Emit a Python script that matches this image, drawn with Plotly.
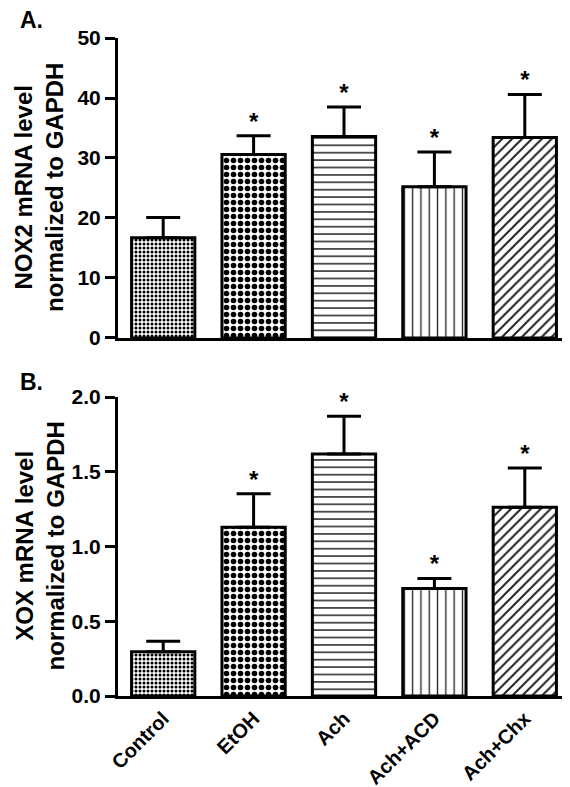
import plotly.graph_objects as go
from plotly.subplots import make_subplots

categories = ["Control", "EtOH", "Ach", "Ach+ACD", "Ach+Chx"]
nox2_mean = [16.7, 30.6, 33.6, 25.2, 33.4]
nox2_sem = [3.4, 3.1, 4.9, 5.8, 7.2]
xox_mean = [0.296, 1.129, 1.619, 0.719, 1.263]
xox_sem = [0.071, 0.223, 0.252, 0.067, 0.262]
significant = [False, True, True, True, True]
nox2_ticks = [0, 10, 20, 30, 40, 50]
xox_ticks = [0.0, 0.5, 1.0, 1.5, 2.0]
xox_ticklabels = ["0.0", "0.5", "1.0", "1.5", "2.0"]
panel_letters = ["A.", "B."]
y_titles = ["NOX2 mRNA level<br>normalized to GAPDH", "XOX mRNA level<br>normalized to GAPDH"]

FONT = "Arial, Liberation Sans, sans-serif"
patterns = [
    dict(shape=".", size=4, solidity=0.45, fgcolor="black", bgcolor="white", fillmode="replace"),
    dict(shape=".", size=7, solidity=0.5, fgcolor="black", bgcolor="white", fillmode="replace"),
    dict(shape="-", size=7.4, solidity=0.22, fgcolor="#333333", bgcolor="white", fillmode="replace"),
    dict(shape="|", size=8.3, solidity=0.16, fgcolor="#222222", bgcolor="white", fillmode="replace"),
    dict(shape="/", size=7, solidity=0.28, fgcolor="#222222", bgcolor="white", fillmode="replace"),
]

fig = make_subplots(rows=2, cols=1, vertical_spacing=0.0)


def add_panel(means, sems, row):
    for i, cat in enumerate(categories):
        fig.add_trace(go.Bar(
            x=[cat], y=[means[i]],
            width=0.7,
            marker=dict(color="white", line=dict(color="black", width=3), pattern=patterns[i]),
            error_y=dict(type="data", array=[sems[i]], arrayminus=[0], symmetric=False,
                         color="black", thickness=3, width=17),
            showlegend=False, hoverinfo="skip",
        ), row=row, col=1)
    sx = [c for c, s in zip(categories, significant) if s]
    sy = [m + e for m, e, s in zip(means, sems, significant) if s]
    fig.add_trace(go.Scatter(
        x=sx, y=sy, mode="text", text=["*"] * len(sx), textposition="top center",
        textfont=dict(family=FONT, size=24, color="black", weight="bold"),
        cliponaxis=False, showlegend=False, hoverinfo="skip",
    ), row=row, col=1)


add_panel(nox2_mean, nox2_sem, 1)
add_panel(xox_mean, xox_sem, 2)

axis_common = dict(showline=True, linecolor="black", linewidth=3, showgrid=False, zeroline=False,
                   mirror=False, automargin=False)
tickfont = dict(size=21, weight="bold", family=FONT, color="black")
xtickfont = dict(size=20, weight="bold", family=FONT, color="black")
titlefont = dict(size=24, weight="bold", family=FONT, color="black")
fig.update_layout(
    width=570, height=787,
    margin=dict(l=110, r=8, t=30, b=99),
    paper_bgcolor="white", plot_bgcolor="white",
    barmode="overlay",
    font=dict(family=FONT, color="black"),
    xaxis=dict(domain=[0, 1], anchor="y", range=[-0.5, 4.5], showticklabels=False, ticks="",
               categoryorder="array", categoryarray=categories, **axis_common),
    yaxis=dict(domain=[0.5441, 1], anchor="x", range=[0, 50], tickvals=nox2_ticks,
               ticks="outside", ticklen=10, tickwidth=3, tickcolor="black",
               tickfont=tickfont, **axis_common),
    xaxis2=dict(domain=[0, 1], anchor="y2", range=[-0.5, 4.5], ticks="", tickangle=-45,
                categoryorder="array", categoryarray=categories,
                tickfont=xtickfont, **axis_common),
    yaxis2=dict(domain=[0, 0.4544], anchor="x2", range=[0, 2], tickvals=xox_ticks,
                ticktext=xox_ticklabels,
                ticks="outside", ticklen=10, tickwidth=3, tickcolor="black",
                tickfont=tickfont, **axis_common),
)
# panel letters and y-axis titles placed in paper coordinates
plot_w = 570 - 110 - 8
plot_h = 787 - 30 - 99
anns = []
for a, py in zip(panel_letters, [12, 374]):
    anns.append(dict(text=a, x=(10 - 110) / plot_w, y=(787 - 99 - py) / plot_h,
                     xref="paper", yref="paper", xanchor="left", yanchor="middle",
                     showarrow=False, font=dict(size=23, weight="bold", family=FONT, color="black")))
for t, py in zip(y_titles, [180, 538.5]):
    anns.append(dict(text=t, x=(31 - 110) / plot_w, y=(787 - 99 - py) / plot_h,
                     xref="paper", yref="paper", xanchor="center", yanchor="middle",
                     textangle=-90, showarrow=False, font=titlefont))
fig.update_layout(annotations=anns)

fig.write_html("out.html")
